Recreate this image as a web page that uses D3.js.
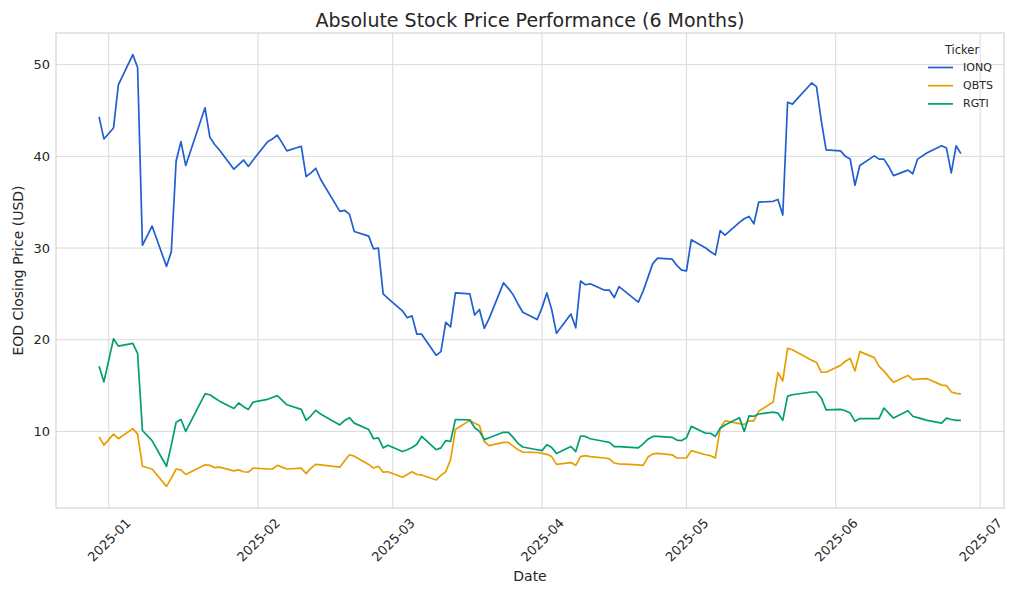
<!DOCTYPE html>
<html>
<head>
<meta charset="utf-8">
<script src="https://cdn.jsdelivr.net/npm/d3@7"></script>
<style>
  body { margin: 0; background: #fff; }
  svg { display: block; font-family: "DejaVu Sans", sans-serif; }
</style>
</head>
<body>
<svg width="1024" height="597"></svg>
<script>
// trading days, Dec 30 2024 -> Jun 27 2025
const dates = [
    '2024-12-30','2024-12-31',
    '2025-01-02','2025-01-03','2025-01-06','2025-01-07','2025-01-08','2025-01-10','2025-01-13','2025-01-14','2025-01-15','2025-01-16',
    '2025-01-17','2025-01-21','2025-01-22','2025-01-23','2025-01-24','2025-01-27','2025-01-28','2025-01-29','2025-01-30','2025-01-31',
    '2025-02-03','2025-02-04','2025-02-05','2025-02-06','2025-02-07','2025-02-10','2025-02-11','2025-02-12','2025-02-13','2025-02-14',
    '2025-02-18','2025-02-19','2025-02-20','2025-02-21','2025-02-24','2025-02-25','2025-02-26','2025-02-27','2025-02-28',
    '2025-03-03','2025-03-04','2025-03-05','2025-03-06','2025-03-07','2025-03-10','2025-03-11','2025-03-12','2025-03-13','2025-03-14',
    '2025-03-17','2025-03-18','2025-03-19','2025-03-20','2025-03-21','2025-03-24','2025-03-25','2025-03-26','2025-03-27','2025-03-28','2025-03-31',
    '2025-04-01','2025-04-02','2025-04-03','2025-04-04','2025-04-07','2025-04-08','2025-04-09','2025-04-10','2025-04-11','2025-04-14',
    '2025-04-15','2025-04-16','2025-04-17','2025-04-21','2025-04-22','2025-04-23','2025-04-24','2025-04-25','2025-04-28','2025-04-29','2025-04-30',
    '2025-05-01','2025-05-02','2025-05-05','2025-05-06','2025-05-07','2025-05-08','2025-05-09','2025-05-12','2025-05-13','2025-05-14',
    '2025-05-15','2025-05-16','2025-05-19','2025-05-20','2025-05-21','2025-05-22','2025-05-23','2025-05-27','2025-05-28','2025-05-29','2025-05-30',
    '2025-06-02','2025-06-03','2025-06-04','2025-06-05','2025-06-06','2025-06-09','2025-06-10','2025-06-11','2025-06-12','2025-06-13',
    '2025-06-16','2025-06-17','2025-06-18','2025-06-20','2025-06-23','2025-06-24','2025-06-25','2025-06-26','2025-06-27'
]

const ionq = [
    44.3, 41.9,
    43.1, 47.8, 51.1, 49.7, 30.3, 32.4, 28.0, 29.6, 39.5, 41.6,
    39.0, 45.3, 42.1, 41.3, 40.7, 38.6, 39.1, 39.6, 38.9, 39.6,
    41.6, 41.9, 42.3, 41.5, 40.6, 41.1, 37.8, 38.2, 38.7, 37.5,
    34.0, 34.1, 33.7, 31.8, 31.3, 29.9, 30.0, 25.0, 24.5,
    23.15, 22.4, 22.6, 20.6, 20.6, 18.3, 18.7, 21.9, 21.4, 25.1,
    25.0, 22.7, 23.3, 21.25, 22.3, 26.2, 25.6, 24.9, 23.9, 23.0, 22.2,
    23.5, 25.1, 23.3, 20.7, 22.8, 21.3, 26.4, 26.0, 26.1, 25.4,
    25.4, 24.6, 25.8, 24.1, 25.3, 26.8, 28.3, 28.9, 28.8, 28.1, 27.6,
    27.5, 30.9, 30.0, 29.6, 29.25, 31.9, 31.4, 32.8, 33.2, 33.45,
    32.65, 35.0, 35.1, 35.3, 33.6, 45.9, 45.7, 48.0, 47.6, 43.9, 40.7,
    40.6, 40.0, 39.7, 36.85, 39.0, 40.05, 39.7, 39.7, 38.9, 37.9,
    38.5, 38.1, 39.7, 40.4, 41.15, 40.9, 38.2, 41.15, 40.3
]

const qbts = [
    9.4, 8.5,
    9.7, 9.2, 10.3, 9.7, 6.2, 5.9, 4.0, 4.9, 5.9, 5.8,
    5.3, 6.35, 6.3, 6.05, 6.1, 5.7, 5.8, 5.6, 5.55, 6.0,
    5.9, 5.9, 6.3, 6.1, 5.9, 6.0, 5.4, 6.0, 6.4, 6.35,
    6.1, 6.8, 7.45, 7.3, 6.4, 6.0, 6.2, 5.55, 5.6,
    5.0, 5.3, 5.6, 5.3, 5.25, 4.7, 5.2, 5.6, 6.9, 10.2,
    11.2, 10.9, 10.65, 8.9, 8.45, 8.8, 8.8, 8.4, 8.0, 7.75, 7.7,
    7.6, 7.5, 7.25, 6.4, 6.6, 6.3, 7.25, 7.35, 7.25, 7.1,
    7.0, 6.55, 6.45, 6.35, 6.3, 7.2, 7.55, 7.6, 7.45, 7.1, 7.1,
    7.1, 7.9, 7.45, 7.35, 7.1, 10.35, 11.15, 10.85, 10.75, 11.15,
    11.15, 12.2, 13.2, 16.4, 15.5, 19.05, 18.9, 17.75, 17.55, 16.45, 16.45,
    17.2, 17.65, 17.95, 16.6, 18.7, 18.05, 17.1, 16.6, 15.95, 15.35,
    16.1, 15.65, 15.7, 15.75, 15.05, 15.0, 14.3, 14.15, 14.1
]

const rgti = [
    17.1, 15.4,
    20.1, 19.3, 19.6, 18.5, 10.1, 9.0, 6.2, 8.5, 11.0, 11.3,
    10.0, 14.1, 14.0, 13.65, 13.3, 12.5, 13.1, 12.7, 12.4, 13.2,
    13.5, 13.7, 13.9, 13.4, 12.9, 12.4, 11.2, 11.7, 12.3, 11.9,
    10.7, 11.2, 11.5, 10.9, 10.2, 9.2, 9.3, 8.2, 8.5,
    7.8, 8.0, 8.25, 8.6, 9.45, 8.0, 8.2, 9.0, 8.9, 11.3,
    11.25, 10.4, 10.0, 9.1, 9.3, 9.9, 9.9, 9.35, 8.7, 8.3, 8.0,
    7.9, 8.55, 8.25, 7.6, 8.35, 7.8, 9.5, 9.45, 9.2, 8.9,
    8.8, 8.35, 8.35, 8.2, 8.65, 9.15, 9.45, 9.45, 9.35, 9.05, 9.0,
    9.3, 10.55, 9.8, 9.8, 9.45, 10.35, 10.7, 11.5, 10.0, 11.7,
    11.65, 11.9, 12.1, 12.0, 11.2, 13.85, 14.0, 14.3, 14.3, 13.65, 12.35,
    12.4, 12.25, 12.0, 11.1, 11.4, 11.4, 11.4, 12.55, 12.0, 11.45,
    12.25, 11.65, 11.5, 11.2, 10.9, 11.45, 11.3, 11.2, 11.2
]

const tickers = ['IONQ', 'QBTS', 'RGTI']
const colors = ['#1f5fcf', '#e69f00', '#009e73']
const yTicks = [10, 20, 30, 40, 50]
const xTicks = ['2025-01-01','2025-02-01','2025-03-01','2025-04-01','2025-05-01','2025-06-01','2025-07-01']

const parse = d3.timeParse('%Y-%m-%d')
const series = [ionq, qbts, rgti].map((vals, i) => ({
    name: tickers[i],
    color: colors[i],
    points: vals.map((v, j) => ({ date: parse(dates[j]), value: v }))
}))

const svg = d3.select('svg')
const margin = { left: 56, right: 20, top: 33, bottom: 89 }
const width = +svg.attr('width')
const height = +svg.attr('height')
const x0 = margin.left, x1 = width - margin.right
const y0 = margin.top, y1 = height - margin.bottom

// matplotlib style 5% padding
const tExt = d3.extent(dates, parse)
const tPad = (tExt[1] - tExt[0]) * 0.05
const allVals = ionq.concat(qbts, rgti)
const vExt = d3.extent(allVals)
const vPad = (vExt[1] - vExt[0]) * 0.05

const xScale = d3.scaleTime()
    .domain([new Date(+tExt[0] - tPad), new Date(+tExt[1] + tPad)])
    .range([x0, x1])
const yScale = d3.scaleLinear()
    .domain([vExt[0] - vPad, vExt[1] + vPad])
    .range([y1, y0])

// grid
const grid = svg.append('g')
grid.selectAll('line.vx')
    .data(xTicks.map(parse))
    .enter().append('line')
    .attr('x1', d => xScale(d)).attr('x2', d => xScale(d))
    .attr('y1', y0).attr('y2', y1)
    .style('stroke', '#d9d9d9').style('stroke-width', 1)
grid.selectAll('line.hy')
    .data(yTicks)
    .enter().append('line')
    .attr('x1', x0).attr('x2', x1)
    .attr('y1', d => yScale(d)).attr('y2', d => yScale(d))
    .style('stroke', '#d9d9d9').style('stroke-width', 1)

// frame
svg.append('rect')
    .attr('x', x0).attr('y', y0)
    .attr('width', x1 - x0).attr('height', y1 - y0)
    .style('fill', 'none').style('stroke', '#d4d4d4').style('stroke-width', 1.2)

// axes (text only, no tick marks)
const xAxis = d3.axisBottom(xScale)
    .tickValues(xTicks.map(parse))
    .tickFormat(d3.timeFormat('%Y-%m'))
    .tickSize(0)
const gx = svg.append('g')
    .attr('transform', `translate(0,${y1})`)
    .call(xAxis)
gx.select('.domain').remove()
gx.selectAll('text')
    .attr('y', 0).attr('dy', 0)
    .attr('transform', d => `translate(0,${32}) rotate(-45)`)
    .attr('dominant-baseline', 'central')
    .style('text-anchor', 'middle')
    .style('font-size', '13px')
    .style('fill', '#262626')
    .style('font-family', '"DejaVu Sans", sans-serif')

const yAxis = d3.axisLeft(yScale)
    .tickValues(yTicks)
    .tickSize(0)
    .tickPadding(6)
const gy = svg.append('g')
    .attr('transform', `translate(${x0},0)`)
    .call(yAxis)
gy.select('.domain').remove()
gy.selectAll('text')
    .style('font-size', '13px')
    .style('fill', '#262626')
    .style('font-family', '"DejaVu Sans", sans-serif')

// lines
const line = d3.line()
    .x(d => xScale(d.date))
    .y(d => yScale(d.value))

svg.append('g').selectAll('path')
    .data(series)
    .enter().append('path')
    .attr('d', d => line(d.points))
    .style('fill', 'none')
    .style('stroke', d => d.color)
    .style('stroke-width', 1.7)
    .style('stroke-linejoin', 'round')

// labels
svg.append('text')
    .attr('x', (x0 + x1) / 2).attr('y', 26.5)
    .attr('text-anchor', 'middle')
    .style('font-size', '19px')
    .style('fill', '#262626')
    .text('Absolute Stock Price Performance (6 Months)')

svg.append('text')
    .attr('x', (x0 + x1) / 2).attr('y', 581)
    .attr('text-anchor', 'middle')
    .style('font-size', '14px')
    .style('fill', '#262626')
    .text('Date')

svg.append('text')
    .attr('transform', `translate(18,${(y0 + y1) / 2}) rotate(-90)`)
    .attr('text-anchor', 'middle')
    .attr('dominant-baseline', 'central')
    .style('font-size', '14px')
    .style('fill', '#262626')
    .text('EOD Closing Price (USD)')

// legend, no frame
const legend = svg.append('g')
legend.append('text')
    .attr('x', 962).attr('y', 53.5)
    .attr('text-anchor', 'middle')
    .style('font-size', '11.5px')
    .style('fill', '#262626')
    .text('Ticker')

series.forEach(function (s, i) {
    var ly = 67.5 + i * 18.2
    legend.append('line')
        .attr('x1', 928).attr('x2', 953)
        .attr('y1', ly).attr('y2', ly)
        .style('stroke', s.color)
        .style('stroke-width', 1.7)
    legend.append('text')
        .attr('x', 963).attr('y', ly)
        .attr('dominant-baseline', 'central')
        .style('font-size', '11px')
        .style('fill', '#262626')
        .text(s.name)
})
</script>
</body>
</html>
